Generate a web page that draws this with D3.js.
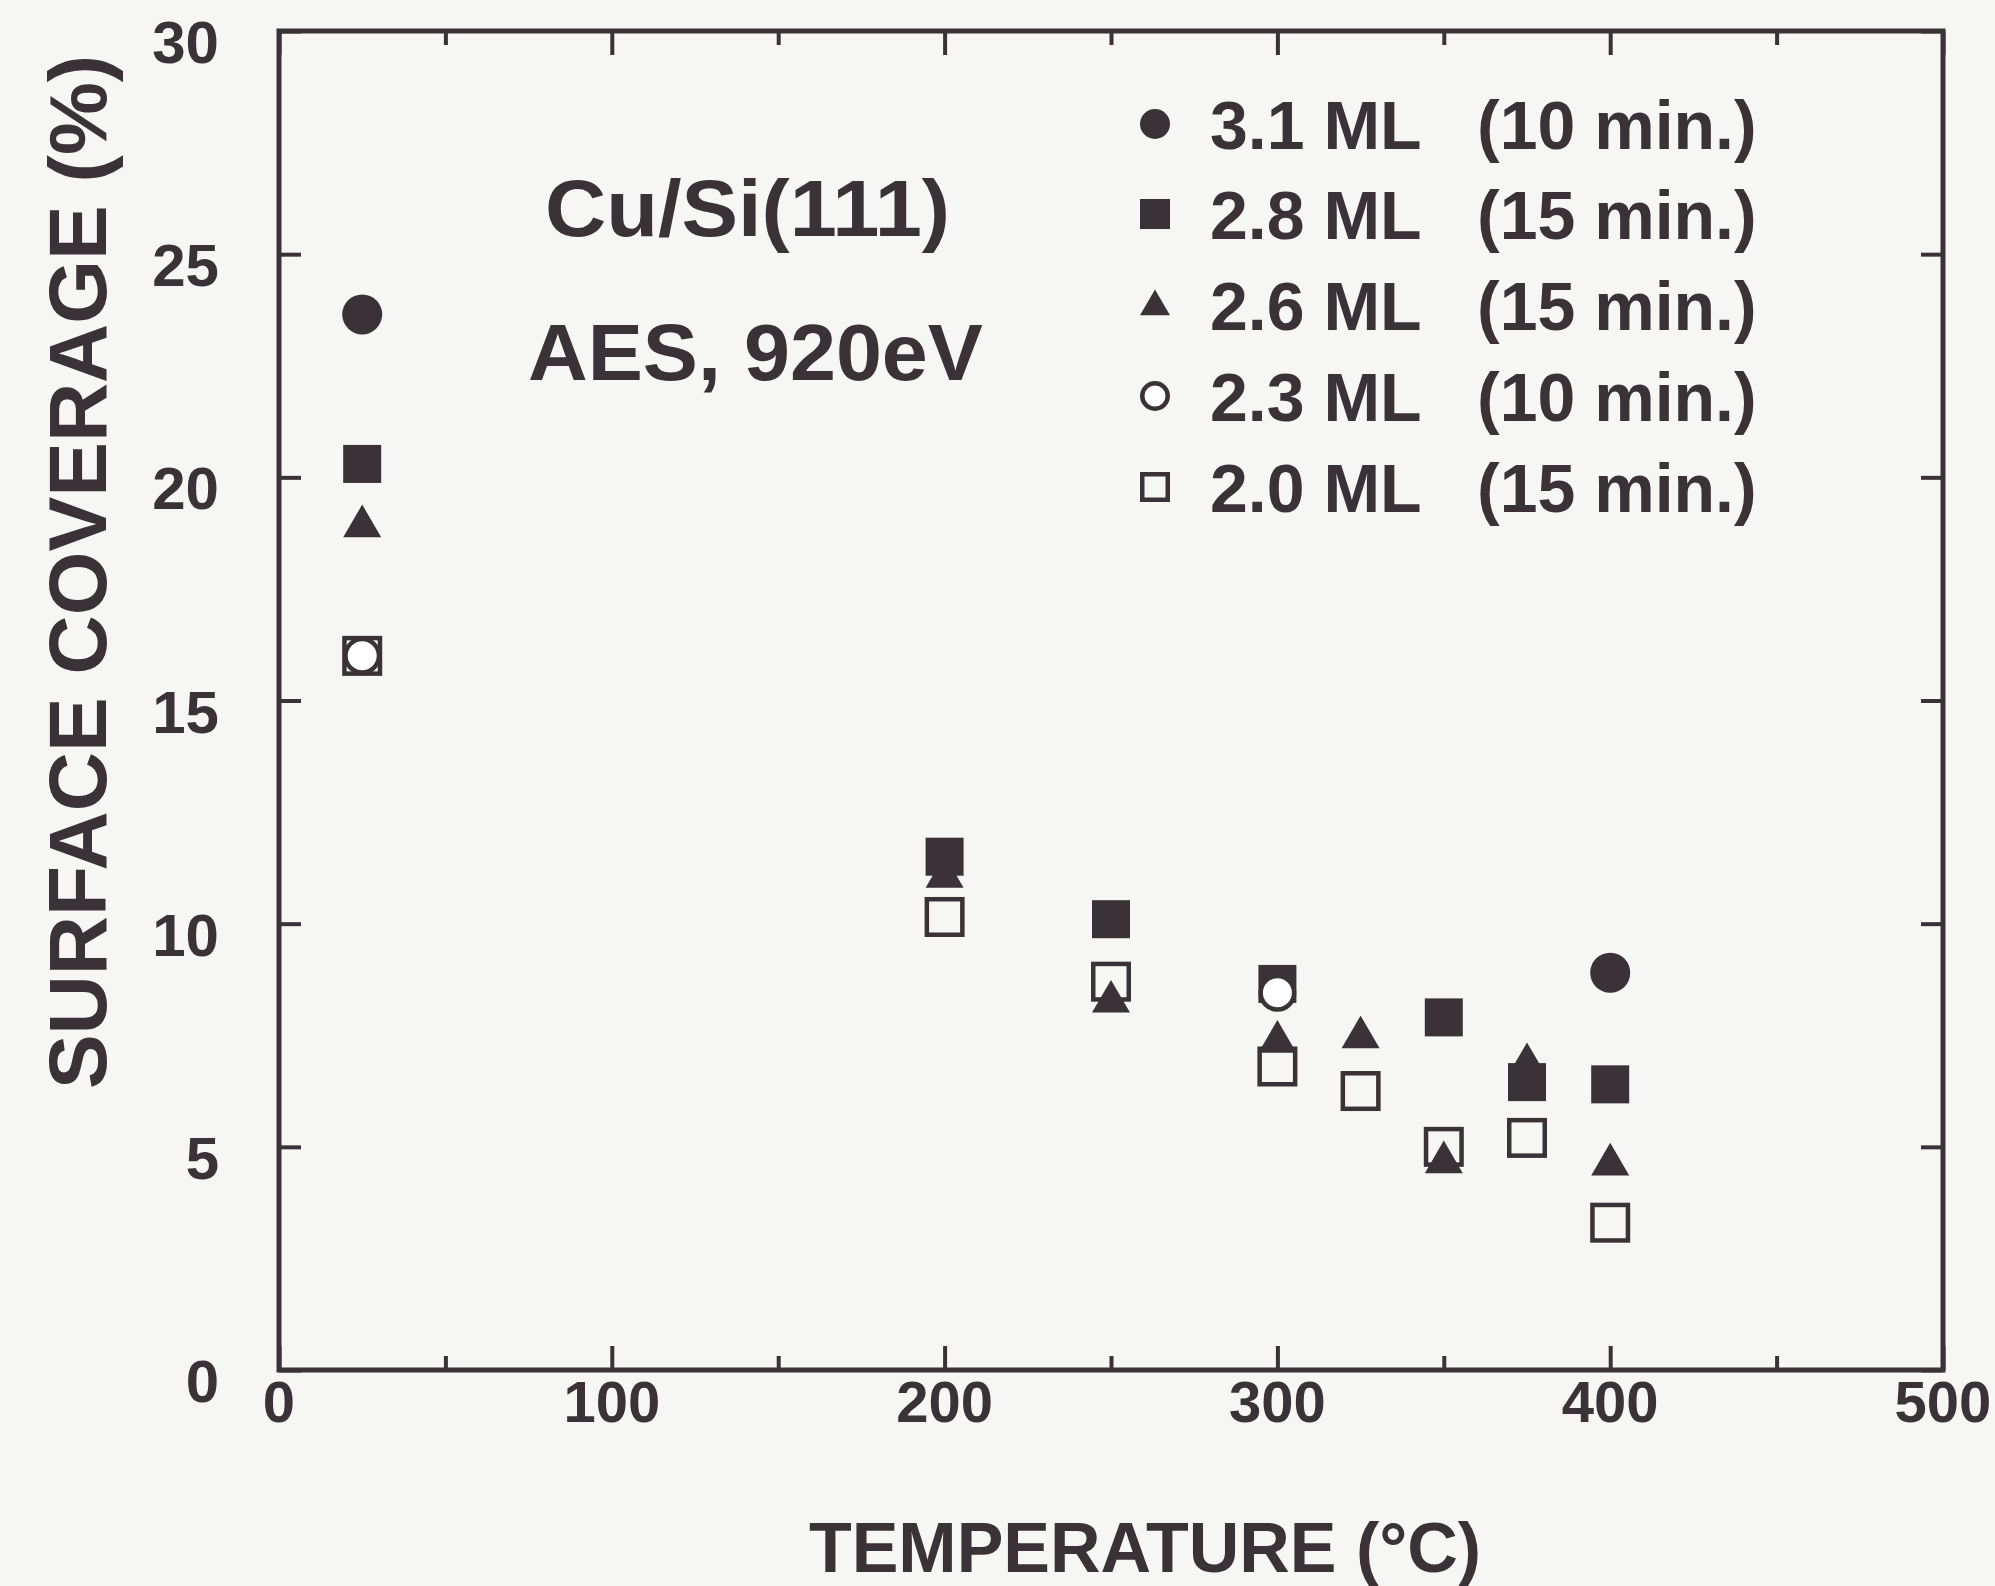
<!DOCTYPE html>
<html>
<head>
<meta charset="utf-8">
<script src="https://cdn.jsdelivr.net/npm/d3@7"></script>
<style>
  html, body { margin: 0; padding: 0; background: #f6f6f4; }
  svg { display: block; }
  text { font-family: "Liberation Sans", Arial, Helvetica, sans-serif; font-weight: bold; fill: #3a3236; }
</style>
</head>
<body>
<svg id="chart" width="1995" height="1586"></svg>
<script>
// ---- data ----
const xTickLabels = [0, 100, 200, 300, 400, 500];
const xMinorTicks = [50, 150, 250, 350, 450];
const yTickLabels = [0, 5, 10, 15, 20, 25, 30];

const seriesNames = ["3.1 ML", "2.8 ML", "2.6 ML", "2.3 ML", "2.0 ML"];
const seriesTimes = ["(10 min.)", "(15 min.)", "(15 min.)", "(10 min.)", "(15 min.)"];

const s31_filledCircle = [[25, 23.65], [400, 8.9]];
const s28_filledSquare = [[25, 20.3], [200, 11.5], [250, 10.1], [300, 8.65], [350, 7.9], [375, 6.45], [400, 6.4]];
const s26_filledTriangle = [[25, 18.95], [200, 11.1], [250, 8.3], [300, 7.4], [325, 7.5], [350, 4.7], [375, 6.9], [400, 4.65]];
const s23_openCircle = [[25, 16.0], [300, 8.45]];
const s20_openSquare = [[25, 16.0], [200, 10.15], [250, 8.7], [300, 6.8], [325, 6.25], [350, 5.0], [375, 5.2], [400, 3.3]];

const titleLines = ["Cu/Si(111)", "AES, 920eV"];
const xTitle = "TEMPERATURE (°C)";
const yTitle = "SURFACE COVERAGE (%)";

// ---- layout ----
const ink = "#3a3236";
const bg = "#f6f6f4";
const L = 279, R = 1943, T = 31, B = 1370;

const svg = d3.select("#chart");
svg.append("rect").attr("width", 1995).attr("height", 1586).attr("fill", bg);

const x = d3.scaleLinear().domain([0, 500]).range([L, R]);
const y = d3.scaleLinear().domain([0, 30]).range([B, T]);

function styleAxis(g) {
  g.select(".domain").remove();
  g.selectAll(".tick line").attr("stroke", ink).attr("stroke-width", 4);
  g.selectAll(".tick text").remove();
}

// bottom / top major & minor ticks
svg.append("g").attr("transform", `translate(0,${B})`)
  .call(d3.axisBottom(x).tickValues(xTickLabels).tickSize(-24)).call(styleAxis);
svg.append("g").attr("transform", `translate(0,${B})`)
  .call(d3.axisBottom(x).tickValues(xMinorTicks).tickSize(-14)).call(styleAxis);
svg.append("g").attr("transform", `translate(0,${T})`)
  .call(d3.axisTop(x).tickValues(xTickLabels).tickSize(-24)).call(styleAxis);
svg.append("g").attr("transform", `translate(0,${T})`)
  .call(d3.axisTop(x).tickValues(xMinorTicks).tickSize(-14)).call(styleAxis);
// left / right ticks
svg.append("g").attr("transform", `translate(${L},0)`)
  .call(d3.axisLeft(y).tickValues(yTickLabels).tickSize(-22)).call(styleAxis);
svg.append("g").attr("transform", `translate(${R},0)`)
  .call(d3.axisRight(y).tickValues(yTickLabels).tickSize(-22)).call(styleAxis);

// frame
svg.append("rect").attr("x", L).attr("y", T).attr("width", R - L).attr("height", B - T)
  .attr("fill", "none").attr("stroke", ink).attr("stroke-width", 5);

// tick labels
svg.append("g").selectAll("text").data(xTickLabels).join("text")
  .attr("x", d => x(d)).attr("y", B + 52)
  .attr("text-anchor", "middle").attr("font-size", 58).text(d => d);
svg.append("g").selectAll("text").data(yTickLabels).join("text")
  .attr("x", L - 60).attr("y", d => y(d) + 32)
  .attr("text-anchor", "end").attr("font-size", 60).text(d => d);

// axis titles
svg.append("text").attr("x", 1145).attr("y", 1572)
  .attr("text-anchor", "middle").attr("font-size", 70).text(xTitle);
svg.append("text").attr("transform", `translate(106,572) rotate(-90)`)
  .attr("text-anchor", "middle").attr("font-size", 82).text(yTitle);

// annotation
svg.append("text").attr("x", 545).attr("y", 236).attr("font-size", 80)
  .attr("textLength", 405).attr("lengthAdjust", "spacingAndGlyphs").text(titleLines[0]);
svg.append("text").attr("x", 528).attr("y", 380).attr("font-size", 80)
  .attr("textLength", 455).attr("lengthAdjust", "spacingAndGlyphs").text(titleLines[1]);

// ---- markers ----
const MS = 38;
function drawFilledSquare(g, data, s) {
  g.selectAll(null).data(data).join("rect")
    .attr("x", d => x(d[0]) - s / 2).attr("y", d => y(d[1]) - s / 2)
    .attr("width", s).attr("height", s).attr("fill", ink);
}
function drawOpenSquare(g, data, s) {
  const sw = 4.5;
  g.selectAll(null).data(data).join("rect")
    .attr("x", d => x(d[0]) - s / 2 + sw / 2).attr("y", d => y(d[1]) - s / 2 + sw / 2)
    .attr("width", s - sw).attr("height", s - sw).attr("fill", "none")
    .attr("stroke", ink).attr("stroke-width", sw);
}
function drawFilledCircle(g, data, s) {
  g.selectAll(null).data(data).join("circle")
    .attr("cx", d => x(d[0])).attr("cy", d => y(d[1])).attr("r", s / 2).attr("fill", ink);
}
function drawOpenCircle(g, data, s) {
  const sw = 4.5;
  g.selectAll(null).data(data).join("circle")
    .attr("cx", d => x(d[0])).attr("cy", d => y(d[1])).attr("r", s / 2 - sw / 2)
    .attr("fill", "#ffffff").attr("stroke", ink).attr("stroke-width", sw);
}
function drawTriangle(g, data, s) {
  const h = s * 0.86;
  g.selectAll(null).data(data).join("path")
    .attr("d", d => {
      const cx = x(d[0]), cy = y(d[1]);
      return `M${cx},${cy - h * 0.6}L${cx + s / 2},${cy + h * 0.4}L${cx - s / 2},${cy + h * 0.4}Z`;
    })
    .attr("fill", ink);
}

const gm = svg.append("g");
drawOpenSquare(gm.append("g"), s20_openSquare, MS + 2);
drawTriangle(gm.append("g"), s26_filledTriangle, MS);
drawFilledSquare(gm.append("g"), s28_filledSquare, MS);
drawFilledCircle(gm.append("g"), s31_filledCircle, MS + 2);
drawOpenCircle(gm.append("g"), s23_openCircle, MS);

// ---- legend ----
const legendRows = [124, 214, 305, 396, 487];
const LX = 1155, LS = 30;
const legendMarkers = [drawFilledCircle, drawFilledSquare, drawTriangle, drawOpenCircle, drawOpenSquare];
legendRows.forEach((ry, i) => {
  const g = svg.append("g");
  const pt = [[x.invert(LX), y.invert(ry)]];
  legendMarkers[i](g, pt, LS);
  g.append("text").attr("x", 1210).attr("y", ry + 25).attr("font-size", 68).text(seriesNames[i]);
  g.append("text").attr("x", 1477).attr("y", ry + 25).attr("font-size", 68).text(seriesTimes[i]);
});
</script>
</body>
</html>
